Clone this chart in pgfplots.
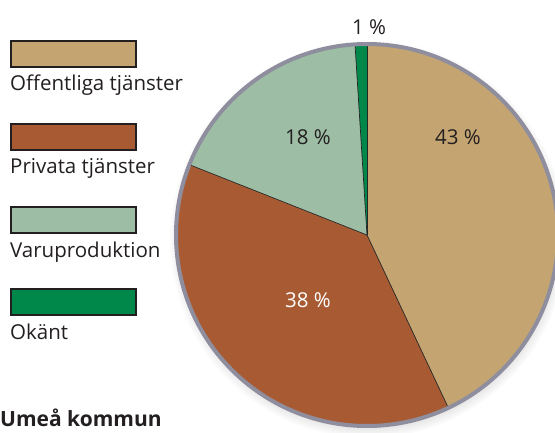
\documentclass[border=0pt]{standalone}
\usepackage{pgfplots}
\pgfplotsset{compat=1.18}
\usepackage{fontspec}
\setmainfont{Open Sans}
\usetikzlibrary{shadows}

\definecolor{offc}{HTML}{C4A572}
\definecolor{privc}{HTML}{A85B33}
\definecolor{varuc}{HTML}{9DBEA4}
\definecolor{okc}{HTML}{00874A}
\definecolor{ringc}{HTML}{8E8E9E}
\definecolor{txtc}{HTML}{231F20}

\begin{document}
\begin{tikzpicture}[lbl/.style={font=\fontsize{20.5}{24}\selectfont, text=txtc}]
\useasboundingbox (0,0) rectangle (555pt,432pt);
% shares in percent
\def\vOff{43}\def\vPriv{38}\def\vVaru{18}\def\vOk{1}
\pgfmathsetmacro\aA{90}
\pgfmathsetmacro\aB{\aA-3.6*\vOff}
\pgfmathsetmacro\aC{\aB-3.6*\vPriv}
\pgfmathsetmacro\aD{\aC-3.6*\vVaru}
\pgfmathsetmacro\aE{\aD-3.6*\vOk}
\def\R{191pt}
\begin{axis}[
    at={(0,0)}, anchor=south west,
    x=1pt, y=1pt,
    xmin=0, xmax=555, ymin=0, ymax=432,
    hide axis, clip=true,
]
% shadow under the pie
\path[circular drop shadow={shadow xshift=1pt, shadow yshift=-4pt, shadow scale=1.03, opacity=0.5}]
    (axis cs:367,197) circle[radius=193pt];
% slices
\fill[offc]  (axis cs:367,197) -- ++(\aA:\R) arc[start angle=\aA, end angle=\aB, radius=\R] -- cycle;
\fill[privc] (axis cs:367,197) -- ++(\aB:\R) arc[start angle=\aB, end angle=\aC, radius=\R] -- cycle;
\fill[varuc] (axis cs:367,197) -- ++(\aC:\R) arc[start angle=\aC, end angle=\aD, radius=\R] -- cycle;
\fill[okc]   (axis cs:367,197) -- ++(\aD:\R) arc[start angle=\aD, end angle=\aE, radius=\R] -- cycle;
\draw[black!85, line width=0.7pt] (axis cs:367,197) -- ++(\aA:\R);
\draw[black!85, line width=0.7pt] (axis cs:367,197) -- ++(\aB:\R);
\draw[black!85, line width=0.7pt] (axis cs:367,197) -- ++(\aC:\R);
\draw[black!85, line width=0.7pt] (axis cs:367,197) -- ++(\aD:\R);
\draw[ringc, line width=4pt] (axis cs:367,197) circle[radius=\R];
% slice labels
\node[lbl] at (axis cs:458,295) {43 \%};
\node[lbl] at (axis cs:308,295) {18 \%};
\node[lbl, text=white] at (axis cs:308,132) {38 \%};
\node[lbl] at (axis cs:369,405) {1 \%};
% legend
\draw[fill=offc,  draw=txtc, line width=1.6pt] (axis cs:11,365) rectangle (axis cs:136,391);
\draw[fill=privc, draw=txtc, line width=1.6pt] (axis cs:11,282) rectangle (axis cs:136,308);
\draw[fill=varuc, draw=txtc, line width=1.6pt] (axis cs:11,199) rectangle (axis cs:136,225);
\draw[fill=okc,   draw=txtc, line width=1.6pt] (axis cs:11,117) rectangle (axis cs:136,143);
\node[lbl, anchor=base west, inner sep=0pt] at (axis cs:10,341) {Offentliga tjänster};
\node[lbl, anchor=base west, inner sep=0pt] at (axis cs:10,258) {Privata tjänster};
\node[lbl, anchor=base west, inner sep=0pt] at (axis cs:10,175) {Varuproduktion};
\node[lbl, anchor=base west, inner sep=0pt] at (axis cs:10,93) {Okänt};
\node[lbl, anchor=base west, inner sep=0pt, font=\fontsize{21}{24}\selectfont\bfseries] at (axis cs:0,6) {Umeå kommun};
\end{axis}
\end{tikzpicture}
\end{document}
